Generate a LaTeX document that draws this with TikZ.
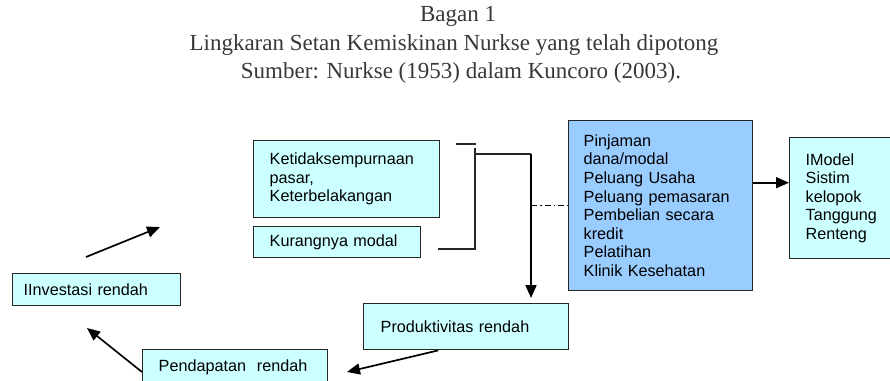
\documentclass[tikz,border=0pt]{standalone}
\usepackage{fontspec}
\setmainfont{Liberation Serif}
\setsansfont{Liberation Sans}
\usetikzlibrary{arrows.meta,positioning}
\definecolor{paleblue}{HTML}{CCFFFF}
\definecolor{midblue}{HTML}{99CCFF}
\definecolor{boxline}{HTML}{262626}
\tikzset{
  box/.style={draw=boxline, fill=paleblue, line width=1.4pt, anchor=north west,
    align=left, inner xsep=16pt, inner ysep=0pt,
    font=\sffamily\fontsize{16.2}{18.6}\selectfont},
  arr/.style={line width=1.7pt, -{Triangle[length=13pt,width=11pt]}},
  brk/.style={line width=1.6pt, draw=boxline},
  judulfont/.style={font=\fontsize{23}{26}\selectfont, color=black!78},
}
\begin{document}
\begin{tikzpicture}[x=1pt,y=-1pt]
  \useasboundingbox (0,0) rectangle (890,380);

  % judul
  \node[judulfont] (bagan) at (458,16) {Bagan 1};
  \node[judulfont] (judul) at (454,45) {Lingkaran Setan Kemiskinan Nurkse yang telah dipotong};
  \node[judulfont] (sumber) at (461,73) {Sumber: Nurkse (1953) dalam Kuncoro (2003).};

  % kotak
  \node[box, text width=154pt, minimum height=77pt] (ketid) at (253,140)
    {Ketidaksempurnaan\\pasar,\\Keterbelakangan};
  \node[box, text width=135pt, minimum height=31pt] (modal) at (253,226) {Kurangnya modal};
  \node[box, fill=midblue, inner xsep=15pt, text width=154pt, minimum height=170pt] (pinj) at (568,120)
    {Pinjaman\\dana/modal\\Peluang Usaha\\Peluang pemasaran\\Pembelian secara\\kredit\\Pelatihan\\Klinik Kesehatan};
  \node[box, text width=72pt, minimum height=121pt] (model) at (789,137)
    {IModel\\Sistim\\kelopok\\Tanggung\\Renteng};
  \node[box, inner xsep=11pt, text width=146pt, minimum height=32pt] (invest) at (12,273) {IInvestasi rendah};
  \node[box, inner xsep=17pt, text width=171pt, minimum height=46pt] (prod) at (363,303) {Produktivitas rendah};
  \node[box, text width=153pt, minimum height=36pt] (pend) at (142,349) {Pendapatan\ \ rendah};

  % kurung dan panah
  \coordinate (b1) at (456,144);
  \coordinate (b2) at (476,144);
  \coordinate (b3) at (475,148);
  \coordinate (b4) at (475,249);
  \coordinate (b5) at (438,249);
  \coordinate (b6) at (475,154);
  \coordinate (b7) at (531,154);
  \draw[brk] (b1) -- (b2);
  \draw[brk] (b3) -- (b4) -- (b5);
  \draw[brk] (b6) -- (b7);
  \draw[arr, shorten >=5pt] (b7) -- (b7 |- prod.north);
  \draw[line width=1pt, dash pattern=on 6pt off 3pt on 1.5pt off 3pt] (b7 |- pinj.west) -- (pinj.west);
  \draw[arr] ([yshift=23pt]pinj.east) -- ([yshift=23pt]pinj.east -| model.west);

  \coordinate (i1) at (86,257);
  \coordinate (i2) at (160,227);
  \coordinate (p1) at (347,372);
  \coordinate (p2) at (87,328);
  \draw[arr] (i1) -- (i2);
  \draw[arr] ([xshift=-28pt]prod.south) -- (p1);
  \draw[arr] ([yshift=-23pt]pend.north west) -- (p2);
\end{tikzpicture}
\end{document}
